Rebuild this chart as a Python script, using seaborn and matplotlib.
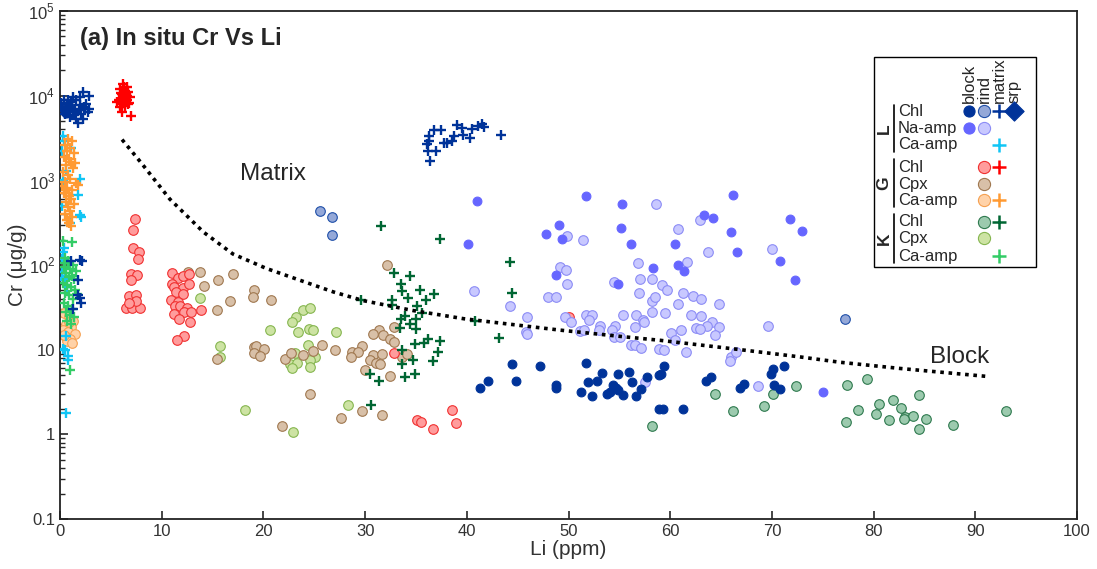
import numpy as np
import pandas as pd
import matplotlib
matplotlib.use("Agg")
import matplotlib.pyplot as plt
import seaborn as sns

sns.set_style("ticks")
plt.rcParams["font.family"] = ["Liberation Sans", "DejaVu Sans"]
plt.rcParams["mathtext.fontset"] = "custom"
plt.rcParams["mathtext.rm"] = "Liberation Sans"

# ---------------- data: Li (ppm), Cr (ug/g) ----------------
# L : Chl block
l_chl_block_li = [41.3, 42.1, 44.4, 44.8, 47.2, 48.8, 48.8, 51.2, 51.7, 51.9, 52.3, 52.8, 53.3,
                  54.1, 54.4, 54.7, 54.9, 55.4, 55.9, 56.2, 56.6, 57.1, 57.7, 58.9, 58.9, 59.1,
                  59.4, 59.3, 61.3, 63.5, 64.0, 66.9, 67.3, 69.9, 70.1, 71.2, 70.2, 70.8,
                  53.8, 54.9, 0.4, 0.9, 0.6]
l_chl_block_cr = [3.5, 4.3, 6.8, 4.3, 6.5, 3.8, 3.5, 3.2, 6.9, 4.1, 2.8, 4.3, 5.3,
                  3.2, 3.8, 3.5, 5.1, 2.9, 5.4, 4.1, 2.8, 3.4, 4.7, 5.0, 2.0, 5.1,
                  6.4, 2.0, 2.0, 4.3, 4.7, 3.5, 3.9, 5.1, 5.9, 6.5, 3.8, 3.4,
                  3.0, 3.3, 7000, 7600, 6300]

# L : Chl rind
l_chl_rind_li = [25.6, 26.7, 26.7, 77.2]
l_chl_rind_cr = [430, 364, 224, 22.8]

# L : Chl matrix
l_chl_mat_li = [36.4, 36.2, 36.1, 36.3, 36.3, 36.8, 37.5, 37.0, 37.8, 38.1, 38.5, 38.7, 39.0,
                39.5, 39.6, 40.3, 40.5, 41.1, 41.5, 41.7, 43.4,
                2.3, 2.9, 1.3, 1.6, 0.7, 0.2, 1.1, 2.0, 2.6, 2.9, 0.5, 1.3, 2.1, 2.8, 1.0,
                1.6, 1.8, 0.3, 2.3, 0.8, 2.0, 0.1, 1.5, 2.5, 1.1, 0.4, 1.9, 2.4, 0.9, 1.4,
                2.0, 2.2, 1.8, 1.8, 2.0, 2.1, 1.3, 1.1]
l_chl_mat_cr = [1670, 2250, 2650, 2950, 3300, 3900, 3900, 2250, 2780, 2780, 2950, 3300, 4550,
                4200, 3400, 3200, 4000, 4350, 4600, 4300, 3470,
                11000, 10000, 9600, 8800, 8000, 7000, 7300, 7700, 8000, 7000, 6100, 6400, 6100,
                6400, 5600, 5350, 4700, 6600, 5350, 8800, 9600, 8200, 7000, 7000, 8400, 9000,
                6800, 7400, 6900, 5900,
                115, 113, 66, 44, 41, 35.5, 30, 110]

# L : Na-amp block
l_na_block_li = [41.0, 40.1, 51.7, 55.3, 49.1, 47.8, 49.4, 55.2, 56.1, 48.8, 54.9, 58.3,
                 66.2, 63.3, 64.2, 66.0, 66.6, 60.5, 60.8, 61.4, 71.8, 73.0, 70.8, 72.3, 75.0]
l_na_block_cr = [563, 178, 650, 530, 300, 230, 203, 276, 178, 77, 60, 93,
                 676, 390, 355, 245, 141, 175, 101, 85, 354, 250, 112, 66, 3.2]

# L : Na-amp rind
l_na_rind_li = [58.6, 49.9, 51.4, 49.2, 49.8, 49.9, 54.5, 56.8, 57.0, 58.2, 56.9, 58.2, 58.5,
                58.2, 40.7, 48.0, 48.8, 45.9, 45.8, 45.9, 49.7, 50.2, 51.7, 52.3, 52.0, 53.1,
                53.0, 51.1, 51.5, 54.6, 54.3, 54.5, 55.1, 55.4, 56.6, 57.3, 56.5, 56.1, 56.5,
                57.1, 58.9, 57.5, 60.8, 62.9, 61.7, 63.7, 59.2, 59.7, 61.3, 62.2, 63.0, 64.8,
                60.8, 59.5, 57.4, 62.0, 63.0, 64.1, 64.8, 63.6, 62.5, 62.9, 64.4, 61.1, 60.1,
                60.5, 59.4, 61.6, 66.0, 65.9, 66.5, 70.0, 69.6, 68.6, 44.2]
l_na_rind_cr = [530, 222, 199, 96, 88, 60, 63, 105, 69, 68, 47, 38, 42,
                28, 49, 42, 42, 24, 16, 15.5, 24, 21, 26, 26, 22.6, 19,
                17, 16.5, 17, 18.8, 17.3, 14, 14, 26, 26, 22.6, 18.5, 11.2, 11.5,
                10.5, 10.3, 4.1, 269, 342, 108, 141, 58, 51, 47, 43, 40, 35,
                35, 27, 21, 26, 24.7, 21.5, 18.5, 18.8, 18, 17.7, 15.1, 17.3, 15.8,
                13.1, 10, 9.4, 8.3, 7.3, 9.4, 156, 19, 3.7, 33]

# L : Ca-amp matrix
l_ca_mat_li = [0.3, 1.1, 0.3, 2.0, 1.8, 2.0, 0.2, 2.1, 1.0, 0.2, 0.3, 0.2, 0.5, 0.3, 0.6,
               0.3, 0.5, 0.8, 0.8, 0.6, 0.4, 0.2, 0.6, 0.4, 0.7]
l_ca_mat_cr = [3300, 2400, 1000, 1050, 680, 390, 500, 370, 310, 117, 142, 83, 71, 66, 14.5,
               10.2, 9.8, 8.4, 7.5, 1.8, 2900, 2200, 1300, 160, 55]

# G : Chl rind
g_chl_rind_li = [7.4, 7.2, 7.2, 7.8, 7.7, 7.0, 7.6, 7.0, 6.8, 7.5, 6.5, 7.1, 7.9, 7.5, 6.8,
                 11.0, 11.6, 12.1, 12.7, 11.0, 11.2, 12.1, 12.7, 11.4, 12.1, 10.9, 11.6, 11.3,
                 11.8, 12.5, 11.2, 12.2, 12.9, 13.9, 11.7, 12.8, 12.2, 11.5,
                 32.8, 35.1, 35.5, 36.7, 38.5, 38.9, 50.0]
g_chl_rind_cr = [354, 257, 160, 142, 118, 79, 77, 66, 43, 44, 31, 31, 31, 37.5, 36,
                 80, 71, 75, 78, 59, 55, 54, 59, 48, 46, 39, 37, 32.4,
                 32.4, 31.4, 26.6, 27.7, 27.7, 29.6, 23.2, 21.3, 14.7, 13.1,
                 9.1, 1.49, 1.4, 1.15, 1.96, 1.36, 24.3]

# G : Chl matrix
g_chl_mat_li = [6.2, 6.6, 5.9, 6.4, 6.7, 6.1, 6.6, 6.2, 5.8, 6.6, 6.9, 6.1, 5.6, 6.4, 5.9,
                6.7, 6.1, 7.0, 6.3, 6.5, 6.0, 6.8]
g_chl_mat_cr = [13800, 12800, 12000, 11500, 11000, 10500, 10000, 9200, 8800, 8800, 9600, 8000,
                8400, 7600, 7300, 8000, 6400, 5750, 12500, 9500, 10800, 8300]

# G : Cpx rind
g_cpx_rind_li = [12.6, 13.8, 17.0, 15.5, 14.2, 19.1, 19.0, 20.7, 16.7, 15.4, 19.1, 19.3, 20.1,
                 19.1, 19.7, 15.4, 22.1, 22.7, 23.9, 24.9, 25.8, 27.0, 24.6, 27.6, 21.8,
                 32.2, 32.8, 31.4, 30.8, 31.8, 32.4, 32.8, 29.7, 28.7, 29.3, 28.6, 30.8, 31.7,
                 30.5, 31.1, 31.5, 33.6, 34.1, 30.0, 32.4, 29.7, 31.7]
g_cpx_rind_cr = [83, 83, 78, 67, 56, 50, 42, 39, 37.5, 29.6, 10.7, 11, 10.3,
                 9.2, 8.5, 7.7, 7.8, 9.2, 8.6, 9.6, 11.2, 10, 3.0, 1.57, 1.24,
                 99, 18.5, 17.2, 15.4, 14.8, 13.5, 12.2, 11, 9.4, 9.4, 8.2, 8.7, 8.9,
                 7.6, 7.0, 6.8, 8.2, 8.8, 5.8, 4.9, 1.9, 1.7]

# G : Ca-amp rind
g_ca_rind_li = [0.4, 0.9, 1.3, 0.6, 1.1, 0.3, 0.8, 1.5, 0.5, 1.0, 0.7, 1.2, 0.4, 0.9]
g_ca_rind_cr = [27, 25, 22, 20, 18.5, 17, 16, 15.5, 14.5, 13.5, 12.5, 12, 15, 21]

# G : Ca-amp matrix
g_ca_mat_li = [0.8, 1.2, 0.5, 1.0, 0.7, 1.4, 0.4, 0.9, 1.1, 0.6, 1.3, 0.3, 0.8, 1.0, 0.5,
               1.6, 1.8, 0.7, 1.2, 0.4, 0.9, 1.1, 0.6, 1.4, 0.8, 1.0, 0.5, 1.2, 0.7, 0.9,
               1.1, 0.6, 0.2, 1.5]
g_ca_mat_cr = [3100, 2900, 2600, 2400, 2200, 2100, 1900, 1800, 1650, 1500, 1400, 1250, 1150,
               1050, 950, 920, 880, 820, 760, 700, 650, 600, 560, 520, 480, 440, 400, 370,
               340, 310, 290, 700, 850, 1600]

# K : Chl rind
k_chl_rind_li = [77.4, 79.4, 78.5, 80.5, 81.9, 82.7, 80.2, 77.3, 81.5, 83.1, 83.9, 83.0, 84.5,
                 85.2, 84.5, 87.8, 93.0, 64.4, 66.2, 69.2, 70.1, 72.4, 58.2]
k_chl_rind_cr = [3.8, 4.5, 1.96, 2.28, 2.57, 2.07, 1.74, 1.4, 1.46, 1.6, 1.66, 1.52, 2.94,
                 1.52, 1.15, 1.3, 1.88, 3.0, 1.9, 2.18, 3.03, 3.7, 1.24]

# K : Chl matrix
k_chl_mat_li = [31.6, 37.4, 32.8, 34.4, 33.5, 33.6, 35.4, 34.2, 36.8, 36.0, 32.6, 32.6, 29.6,
                35.1, 35.6, 33.9, 33.5, 35.0, 34.4, 33.4, 35.0, 36.2, 35.8, 34.9, 37.4, 37.2,
                33.6, 34.7, 36.7, 33.6, 30.5, 31.4, 33.9, 34.9, 30.6, 40.8, 43.2, 44.2, 44.4]
k_chl_mat_cr = [288, 205, 81, 75, 60, 49, 51, 41, 45, 39, 39, 34, 39,
                32.6, 27, 24.7, 23.3, 23.3, 20.3, 18.2, 17.7, 13.5, 12.0, 11.7, 12.6, 9.4,
                10, 7.5, 7.3, 6.7, 5.1, 4.3, 4.8, 5.1, 2.2, 21.8, 13.8, 108, 47]

# K : Cpx rind
k_cpx_rind_li = [13.8, 23.9, 24.6, 23.2, 22.8, 20.6, 23.4, 24.5, 24.9, 27.1, 15.7, 15.7, 24.4,
                 23.1, 25.1, 24.6, 22.6, 23.3, 22.8, 24.6, 18.2, 22.9, 28.3]
k_cpx_rind_cr = [41, 29.6, 31, 24, 21, 17, 16.2, 17.7, 17, 16.2, 11, 8.2, 11.2,
                 9.1, 8.3, 7.6, 6.8, 6.9, 6.0, 6.2, 1.96, 1.08, 2.2]

# K : Ca-amp matrix
k_ca_mat_li = [0.3, 1.2, 0.5, 0.8, 1.3, 0.4, 1.0, 1.6, 0.6, 0.9, 1.4, 0.3, 0.7, 1.1, 1.5,
               0.5, 0.9, 1.3, 0.4, 0.8, 1.2, 0.6, 1.0, 1.4, 0.7, 1.1, 1.0, 0.5, 1.7, 1.2]
k_ca_mat_cr = [190, 185, 120, 110, 100, 95, 90, 85, 80, 72, 68, 62, 58, 55, 50,
               47, 44, 40, 36, 33, 30, 28, 26, 24, 22, 20, 5.7, 105, 45, 75]

# dotted mixing curve between matrix and block end-members
curve_li = [6.1, 8.0, 10.8, 14.1, 17.0, 20.3, 23.6, 26.9, 29.8, 34.7, 39.7, 44.2, 49.2,
            55.7, 59.0, 66.9, 72.8, 76.7, 82.6, 91.4]
curve_cr = [3030, 1600, 600, 245, 135, 91, 66, 48, 38, 29, 23.2, 20, 17,
            14.1, 12.9, 10, 8.2, 7.1, 6.0, 4.8]

# key labels
row_labels = ["Chl", "Na-amp", "Ca-amp", "Chl", "Cpx", "Ca-amp", "Chl", "Cpx", "Ca-amp"]
col_labels = ["block", "rind", "matrix", "srp"]
group_labels = ["L", "G", "K"]

# ---------------- styles ----------------
NAVY = "#003399"
styles = {
    "l_chl_block": dict(marker="o", fc=NAVY, ec=NAVY, s=40),
    "l_chl_rind": dict(marker="o", fc="#94a8d8", ec="#1f4fa8", s=48),
    "l_chl_mat": dict(marker="+", fc=NAVY, ec=NAVY, s=48),
    "srp": dict(marker="D", fc=NAVY, ec=NAVY, s=60),
    "l_na_block": dict(marker="o", fc="#6666ff", ec="#6666ff", s=40),
    "l_na_rind": dict(marker="o", fc="#c8c8ff", ec="#8c8cf5", s=48),
    "l_ca_mat": dict(marker="+", fc="#11c5f5", ec="#11c5f5", s=48),
    "g_chl_rind": dict(marker="o", fc="#ff9c9c", ec="#f03030", s=48),
    "g_chl_mat": dict(marker="+", fc="#ff0000", ec="#ff0000", s=48),
    "g_cpx_rind": dict(marker="o", fc="#d8c0a8", ec="#a07850", s=48),
    "g_ca_rind": dict(marker="o", fc="#ffd2a8", ec="#f5a050", s=48),
    "g_ca_mat": dict(marker="+", fc="#ff9a33", ec="#ff9a33", s=48),
    "k_chl_rind": dict(marker="o", fc="#9ccaae", ec="#2f7a4f", s=48),
    "k_chl_mat": dict(marker="+", fc="#006633", ec="#006633", s=48),
    "k_cpx_rind": dict(marker="o", fc="#cde3a3", ec="#86b650", s=48),
    "k_ca_mat": dict(marker="+", fc="#33cc66", ec="#33cc66", s=48),
}

series = [
    ("k_cpx_rind", k_cpx_rind_li, k_cpx_rind_cr),
    ("g_cpx_rind", g_cpx_rind_li, g_cpx_rind_cr),
    ("k_chl_rind", k_chl_rind_li, k_chl_rind_cr),
    ("g_chl_rind", g_chl_rind_li, g_chl_rind_cr),
    ("l_na_rind", l_na_rind_li, l_na_rind_cr),
    ("l_chl_rind", l_chl_rind_li, l_chl_rind_cr),
    ("l_na_block", l_na_block_li, l_na_block_cr),
    ("l_chl_block", l_chl_block_li, l_chl_block_cr),
    ("l_ca_mat", l_ca_mat_li, l_ca_mat_cr),
    ("g_ca_mat", g_ca_mat_li, g_ca_mat_cr),
    ("k_ca_mat", k_ca_mat_li, k_ca_mat_cr),
    ("g_ca_rind", g_ca_rind_li, g_ca_rind_cr),
    ("l_chl_mat", l_chl_mat_li, l_chl_mat_cr),
    ("g_chl_mat", g_chl_mat_li, g_chl_mat_cr),
    ("k_chl_mat", k_chl_mat_li, k_chl_mat_cr),
]

df = pd.concat(
    [pd.DataFrame({"Li": li, "Cr": cr, "group": name}) for name, li, cr in series],
    ignore_index=True,
)

fig = plt.figure(figsize=(10.97, 5.69), dpi=100)
ax = fig.add_axes([60 / 1097, 1 - 519 / 569, 1017 / 1097, 508 / 569])

for name, _, _ in series:
    st = styles[name]
    sub = df[df["group"] == name]
    if st["marker"] == "+":
        sns.scatterplot(data=sub, x="Li", y="Cr", ax=ax, marker="+", color=st["ec"],
                        s=st["s"], linewidth=1.7, legend=False, zorder=3)
    else:
        sns.scatterplot(data=sub, x="Li", y="Cr", ax=ax, marker="o", color=st["fc"],
                        edgecolor=st["ec"], s=st["s"], linewidth=0.8, legend=False, zorder=2)

ax.plot(curve_li, curve_cr, linestyle=(0, (1, 1.3)), color="black", linewidth=2.6, zorder=4)

ax.set_yscale("log")
ax.set_xlim(0, 100)
ax.set_ylim(0.1, 1e5)
ax.set_xticks(np.arange(0, 101, 10))
ax.set_yticks([0.1, 1, 10, 100, 1e3, 1e4, 1e5])
ax.set_yticklabels(["0.1", "1", "10", r"$10^{2}$", r"$10^{3}$", r"$10^{4}$", r"$10^{5}$"])
ax.tick_params(axis="both", which="major", direction="in", length=6, width=1.2,
               labelsize=12, labelcolor="#333333")
ax.tick_params(axis="y", which="minor", direction="in", length=3.5, width=1.0)
ax.tick_params(axis="x", which="minor", bottom=False)
for sp in ax.spines.values():
    sp.set_linewidth(1.3)
    sp.set_color("#222222")
ax.set_xlabel("Li (ppm)", fontsize=15, color="#333333", labelpad=1)
ax.set_ylabel("Cr (μg/g)", fontsize=15, color="#333333", labelpad=1)

ax.text(0.0197, 0.946, "(a) In situ Cr Vs Li", transform=ax.transAxes, fontsize=17,
        fontweight="bold", ha="left", va="center")
ax.text(0.177, 0.679, "Matrix", transform=ax.transAxes, fontsize=17.5, ha="left", va="center")
ax.text(0.855, 0.318, "Block", transform=ax.transAxes, fontsize=17.5, ha="left", va="center")

# ---------------- key box ----------------
def fx(px):
    return (px - 60) / 1017


def fy(py):
    return (519 - py) / 508


T = ax.transAxes
ax.add_patch(plt.Rectangle((fx(874), fy(267)), fx(1036) - fx(874), fy(57) - fy(267),
                           transform=T, fill=True, facecolor="white", edgecolor="black",
                           linewidth=1.0, zorder=5))

col_x = [969, 984, 999, 1014]
for cx, lab in zip(col_x, col_labels):
    ax.text(fx(cx), fy(103), lab, transform=T, rotation=90, fontsize=12, ha="center",
            va="bottom", zorder=6)

row_y = [111, 128, 145, 167, 184, 200, 222, 238, 256]
for ry, lab in zip(row_y, row_labels):
    ax.text(fx(898), fy(ry), lab, transform=T, fontsize=12, ha="left", va="center", zorder=6)

for (y0, y1), lab in zip([(105, 152), (159, 207), (214, 263)], group_labels):
    ax.plot([fx(894), fx(894)], [fy(y0), fy(y1)], transform=T, color="black", lw=1.2, zorder=6)
    ax.text(fx(884), fy((y0 + y1) / 2), lab, transform=T, rotation=90, fontsize=12.5,
            fontweight="bold", ha="center", va="center", zorder=6)

key_marks = [
    (0, 0, "l_chl_block"), (0, 1, "l_chl_rind"), (0, 2, "l_chl_mat"), (0, 3, "srp"),
    (1, 0, "l_na_block"), (1, 1, "l_na_rind"),
    (2, 2, "l_ca_mat"),
    (3, 1, "g_chl_rind"), (3, 2, "g_chl_mat"),
    (4, 1, "g_cpx_rind"),
    (5, 1, "g_ca_rind"), (5, 2, "g_ca_mat"),
    (6, 1, "k_chl_rind"), (6, 2, "k_chl_mat"),
    (7, 1, "k_cpx_rind"),
    (8, 2, "k_ca_mat"),
]
for r, c, name in key_marks:
    st = styles[name]
    size = st["s"] * 1.6
    if st["marker"] == "+":
        ax.scatter(fx(col_x[c]), fy(row_y[r]), transform=T, marker="+", c=st["ec"],
                   s=size * 1.2, linewidths=1.8, zorder=7, clip_on=False)
    else:
        ax.scatter(fx(col_x[c]), fy(row_y[r]), transform=T, marker=st["marker"], c=st["fc"],
                   edgecolors=st["ec"], s=size, linewidths=0.8, zorder=7, clip_on=False)

fig.savefig("out.png", dpi=100)
